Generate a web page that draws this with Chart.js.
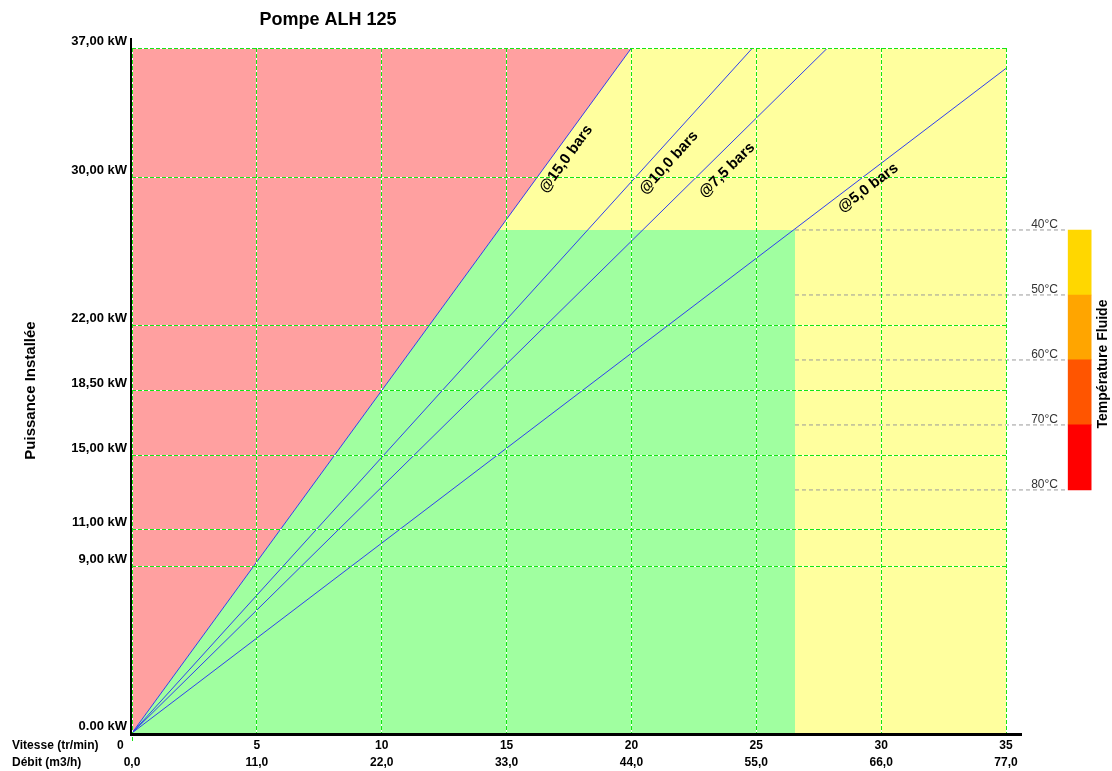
<!DOCTYPE html>
<html lang="fr">
<head>
<meta charset="utf-8">
<title>Pompe ALH 125</title>
<script src="https://cdn.jsdelivr.net/npm/chart.js@4.4.1/dist/chart.umd.min.js"></script>
<style>
  html, body { margin: 0; padding: 0; background: #fff; }
  #wrap { width: 1112px; height: 771px; position: relative; }
</style>
</head>
<body>
<div id="wrap"><canvas id="pumpChart"></canvas></div>
<script>
// ============================================================
//  Pompe ALH 125 — puissance installée / vitesse
// ============================================================

// ===== DATA =====
const speedTicks  = [0, 5, 10, 15, 20, 25, 30, 35];            // Vitesse (tr/min)
const debitLabels = ['0,0', '11,0', '22,0', '33,0', '44,0', '55,0', '66,0', '77,0'];
const powerTicks  = [0, 9, 11, 15, 18.5, 22, 30, 37];          // kW
const powerLabels = ['0.00 kW', '9,00 kW', '11,00 kW', '15,00 kW', '18,50 kW', '22,00 kW', '30,00 kW', '37,00 kW'];

// pressure lines, all starting at (0, 0)
const pressureNames      = ['@15,0 bars', '@10,0 bars', '@7,5 bars', '@5,0 bars'];
const pressureEndSpeed   = [20, 24.85, 27.85, 35];
const pressureEndPower   = [37, 37, 37, 35.9];
const pressureLabelSpeed = [17.38, 21.5, 23.83, 29.48];
const pressureLabelPower = [31.0, 30.8, 30.4, 29.44];

// green zone (allowed operation)
const okZoneSpeed = [0, 14.69, 26.55, 26.55];
const okZonePower = [0, 27.17, 27.17, 0];

// fluid temperature scale
const tempSteps  = [40, 50, 60, 70, 80];
const tempColors = ['#ffd700', '#ffa500', '#ff5500', '#ff0000'];

// ===== LOOK =====
const FONT       = "'Liberation Sans', Arial, sans-serif";
const GRID_GREEN = '#14e614';
const LINE_BLUE  = '#3040ee';
const TEMP_LINE_FROM = 26.55;   // speed units
const TEMP_LINE_TO   = 37.45;
const TEMP_BAR_AT    = 37.95;

const pts = (xs, ys) => xs.map((x, i) => ({ x, y: ys[i] }));
// same pixel snapping as Chart.js uses for 1px grid lines
const snap = p => Math.round(p - 0.5) + 0.5;

const datasets = [];

pressureNames.forEach((name, i) => {
  datasets.push({
    label: name,
    data: [{ x: 0, y: 0 }, { x: pressureEndSpeed[i], y: pressureEndPower[i] }],
    borderColor: LINE_BLUE,
    borderWidth: 1,
    fill: false,
    order: 0,
  });
});

datasets.push({
  label: 'zone ok',
  data: pts(okZoneSpeed, okZonePower),
  borderWidth: 0,
  backgroundColor: '#a0ffa0',
  fill: 'origin',
  order: 1,
});

datasets.push({
  label: 'zone interdite',
  data: [{ x: 0, y: 0 }, { x: pressureEndSpeed[0], y: pressureEndPower[0] }],
  borderWidth: 0,
  backgroundColor: '#ffa0a0',
  fill: 'end',
  order: 2,
});

datasets.push({
  label: 'fond',
  data: [{ x: 0, y: 37 }, { x: 35, y: 37 }],
  borderWidth: 0,
  backgroundColor: '#ffff9e',
  fill: 'origin',
  order: 3,
});

tempSteps.forEach(t => {
  datasets.push({
    label: t + '°C',
    yAxisID: 'yT',
    data: [{ x: TEMP_LINE_FROM, y: t }, { x: TEMP_LINE_TO, y: t }],
    borderColor: '#9a9a9a',
    borderWidth: 1,
    borderDash: [4, 3],
    fill: false,
    clip: false,
    order: 0,
  });
});

datasets.push({
  type: 'bar',
  label: 'Température Fluide',
  yAxisID: 'yT',
  data: tempColors.map((_, i) => ({ x: TEMP_BAR_AT, y: [tempSteps[i], tempSteps[i + 1]] })),
  backgroundColor: tempColors,
  borderWidth: 0,
  barThickness: 23,
  grouped: false,
  clip: false,
  order: 0,
});

// ===== TEXTS & AXIS LINES =====
const decorPlugin = {
  id: 'decor',
  // white under-stroke of the dashed grid (green dashes come on top, z: 1)
  afterDatasetsDraw(chart) {
    const { ctx, chartArea: a, scales } = chart;
    ctx.save();
    ctx.strokeStyle = '#fff';
    ctx.lineWidth = 1;
    ctx.beginPath();
    speedTicks.forEach(v => {
      const px = snap(scales.x.getPixelForValue(v));
      ctx.moveTo(px, a.top); ctx.lineTo(px, a.bottom);
    });
    powerTicks.forEach(v => {
      const py = snap(scales.y.getPixelForValue(v));
      ctx.moveTo(a.left, py); ctx.lineTo(a.right, py);
    });
    ctx.stroke();
    ctx.restore();
  },
  afterDraw(chart) {
    const { ctx, chartArea: a, scales } = chart;
    const x = scales.x, y = scales.y, yT = scales.yT;
    ctx.save();

    // black axes
    ctx.strokeStyle = '#000';
    ctx.lineWidth = 2;
    ctx.beginPath();
    ctx.moveTo(a.left - 1, a.top - 10);
    ctx.lineTo(a.left - 1, a.bottom + 1);
    ctx.stroke();
    ctx.lineWidth = 3;
    ctx.beginPath();
    ctx.moveTo(a.left - 2, a.bottom + 1.5);
    ctx.lineTo(a.right + 16, a.bottom + 1.5);
    ctx.stroke();

    // small green tick under the origin
    ctx.strokeStyle = GRID_GREEN;
    ctx.lineWidth = 1;
    ctx.beginPath();
    ctx.moveTo(a.left + 0.5, a.bottom + 4);
    ctx.lineTo(a.left + 0.5, a.bottom + 8);
    ctx.stroke();

    // title
    ctx.fillStyle = '#000';
    ctx.textAlign = 'center';
    ctx.textBaseline = 'middle';
    ctx.font = `bold 18px ${FONT}`;
    ctx.fillText('Pompe ALH 125', 328, 20);

    // y title
    ctx.font = `bold 15px ${FONT}`;
    ctx.save();
    ctx.translate(31, (a.top + a.bottom) / 2);
    ctx.rotate(-Math.PI / 2);
    ctx.fillText('Puissance Installée', 0, 0);
    ctx.restore();

    // bottom rows captions
    ctx.font = `bold 12px ${FONT}`;
    ctx.textAlign = 'left';
    ctx.fillText('Vitesse (tr/min)', 12, a.bottom + 13);
    ctx.fillText('Débit (m3/h)', 12, a.bottom + 30);

    // pressure labels, turned along their line
    ctx.font = `bold 15px ${FONT}`;
    ctx.textAlign = 'center';
    pressureNames.forEach((name, i) => {
      const px = x.getPixelForValue(pressureLabelSpeed[i]);
      const py = y.getPixelForValue(pressureLabelPower[i]);
      const ang = Math.atan2(
        y.getPixelForValue(pressureEndPower[i]) - y.getPixelForValue(0),
        x.getPixelForValue(pressureEndSpeed[i]) - x.getPixelForValue(0));
      ctx.save();
      ctx.translate(px, py);
      ctx.rotate(ang);
      ctx.fillText(name, 0, 0);
      ctx.restore();
    });

    // temperature labels
    ctx.font = `12px ${FONT}`;
    ctx.fillStyle = '#333';
    ctx.textAlign = 'right';
    ctx.textBaseline = 'alphabetic';
    tempSteps.forEach(t => ctx.fillText(t + '°C', a.right + 52, yT.getPixelForValue(t) - 2));

    ctx.fillStyle = '#000';
    ctx.font = `bold 14px ${FONT}`;
    ctx.textAlign = 'center';
    ctx.textBaseline = 'middle';
    ctx.save();
    ctx.translate(1103, 364);
    ctx.rotate(-Math.PI / 2);
    ctx.fillText('Température Fluide', 0, 0);
    ctx.restore();

    ctx.restore();
  }
};

// ===== CHART =====
new Chart(document.getElementById('pumpChart'), {
  type: 'line',
  data: { datasets },
  plugins: [decorPlugin],
  options: {
    responsive: true,
    maintainAspectRatio: false,
    animation: false,
    events: [],
    layout: { padding: { top: 48, right: 106, bottom: 0, left: 0 } },
    elements: { point: { radius: 0 }, line: { tension: 0 } },
    plugins: { legend: { display: false }, tooltip: { enabled: false } },
    scales: {
      x: {
        type: 'linear', min: 0, max: 35, offset: false,
        afterBuildTicks: s => { s.ticks = speedTicks.map(v => ({ value: v })); },
        afterFit: s => { s.height = 38; },
        grid: { color: GRID_GREEN, drawTicks: false, offset: false, z: 1 },
        border: { display: false, dash: [4, 2] },
        ticks: {
          padding: 4, color: '#000', autoSkip: false, maxRotation: 0,
          font: { family: FONT, size: 12, weight: 'bold', lineHeight: 1.45 },
          callback: v => {
            const i = speedTicks.indexOf(v);
            return [i === 0 ? '0       ' : String(v), debitLabels[i]];
          }
        }
      },
      y: {
        type: 'linear', min: 0, max: 37,
        afterBuildTicks: s => { s.ticks = powerTicks.map(v => ({ value: v })); },
        afterFit: s => { s.width = 132; },
        grid: { color: GRID_GREEN, drawTicks: false, z: 1 },
        border: { display: false, dash: [4, 2] },
        ticks: {
          padding: 5, labelOffset: -7, color: '#000',
          font: { family: FONT, size: 13, weight: 'bold' },
          callback: v => powerLabels[powerTicks.indexOf(v)]
        }
      },
      yT: { type: 'linear', display: false, reverse: true, min: 12, max: 117.4 }
    }
  }
});
</script>
</body>
</html>
